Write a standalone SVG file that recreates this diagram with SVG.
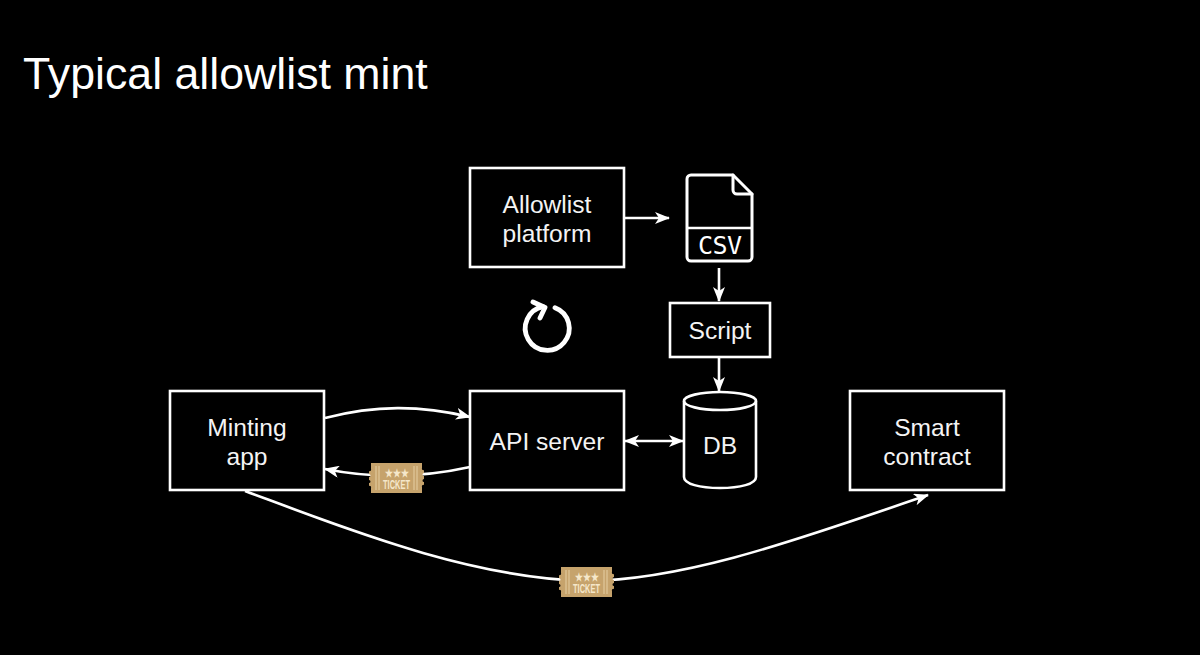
<svg xmlns="http://www.w3.org/2000/svg" width="1200" height="655" viewBox="0 0 1200 655">
<style>
text{font-family:"Liberation Sans",Arial,sans-serif;fill:#fff}
.t{font-size:24.600px;text-anchor:middle;fill:#f4f4f4}
.b{fill:#000;stroke:#fff;stroke-width:2.600}
.c{fill:none;stroke:#fff;stroke-width:2.600}
.k{fill:none;stroke:#fff;stroke-width:3;stroke-linecap:round;stroke-linejoin:round}
.r{fill:none;stroke:#fff;stroke-width:4.800;stroke-linecap:round;stroke-linejoin:round}
.tk{font-weight:700;text-anchor:middle;fill:#f5e7ca}
</style>
<defs>
<marker id="a" viewBox="0 0 15 12" refX="14" refY="6" markerWidth="15" markerHeight="12" markerUnits="userSpaceOnUse" orient="auto-start-reverse"><path d="M0 0L15 6L0 12L4 6Z" fill="#fff"/></marker>
<g id="ticket">
<path d="M2 0H53V5a1.500 1.500 0 0 0 2 2v3a1.500 1.500 0 0 0 0 3v3a1.500 1.500 0 0 0 0 3v3a1.500 1.500 0 0 0-2 2v6H2V25a1.500 1.500 0 0 0-2-2V20a1.500 1.500 0 0 0 0-3V14a1.500 1.500 0 0 0 0-3V8a1.500 1.500 0 0 0 2-2Z" fill="#c6a36c"/>
<path d="M7 3V27M10 3V27M45 3V27M48 3V27" stroke="#e6cfa3" stroke-width="1" fill="none"/>
<text class="tk" x="27.500" y="14" font-size="11" textLength="24" lengthAdjust="spacingAndGlyphs">★★★</text>
<text class="tk" x="27.500" y="25.500" font-size="12" textLength="27" lengthAdjust="spacingAndGlyphs">TICKET</text>
</g>
</defs>
<rect width="1200" height="655" fill="#000"/>
<text x="23" y="89" font-size="44.700">Typical allowlist mint</text>
<g id="connectors">
<path class="c" d="M624 218H669" marker-end="url(#a)"/>
<path class="c" d="M719 268V301" marker-end="url(#a)"/>
<path class="c" d="M719 357V391" marker-end="url(#a)"/>
<path class="c" d="M625 441H683" marker-start="url(#a)" marker-end="url(#a)"/>
<path class="c" d="M325 418C375 405 420 405 470 417" marker-end="url(#a)"/>
<path class="c" d="M470 467C425 477 375 479 325 469" marker-end="url(#a)"/>
<path class="c" d="M245 491C350 530 470 578 586 581C690 580 810 535 928 495" marker-end="url(#a)"/>
</g>
<g id="allowlist"><rect class="b" x="470" y="168" width="154" height="99"/><text class="t" x="547" y="213">Allowlist</text><text class="t" x="547" y="242">platform</text></g>
<g id="csv">
<path class="k" d="M733 175H691a4 4 0 0 0-4 4V257a4 4 0 0 0 4 4H748a4 4 0 0 0 4-4V194Z"/>
<path class="k" d="M733 175V190a4 4 0 0 0 4 4H752"/>
<path class="c" d="M687 228H752"/>
<text x="720" y="254" font-size="25" text-anchor="middle" textLength="44" lengthAdjust="spacing" style="font-family:'DejaVu Sans Mono',monospace">CSV</text>
</g>
<g id="script"><rect class="b" x="670" y="303" width="100" height="54"/><text class="t" x="720" y="339">Script</text></g>
<g id="refresh">
<path class="r" d="M555 307.700A22 22 0 1 1 543 306.700"/>
<path class="r" d="M533 302L545 307.500L540 318"/>
</g>
<g id="minting"><rect class="b" x="170" y="391" width="154" height="99"/><text class="t" x="247" y="436">Minting</text><text class="t" x="247" y="465">app</text></g>
<g id="api"><rect class="b" x="470" y="391" width="154" height="99"/><text class="t" x="547" y="450">API server</text></g>
<g id="db">
<path class="c" d="M684 401V477C684 484 700 488 720 488C740 488 756 484 756 477V401"/>
<ellipse class="c" cx="720" cy="401" rx="36" ry="9"/>
<text class="t" x="720" y="454">DB</text>
</g>
<g id="contract"><rect class="b" x="850" y="391" width="154" height="99"/><text class="t" x="927" y="436">Smart</text><text class="t" x="927" y="465">contract</text></g>
<use href="#ticket" x="369" y="463"/>
<use href="#ticket" x="559" y="567"/>
</svg>
